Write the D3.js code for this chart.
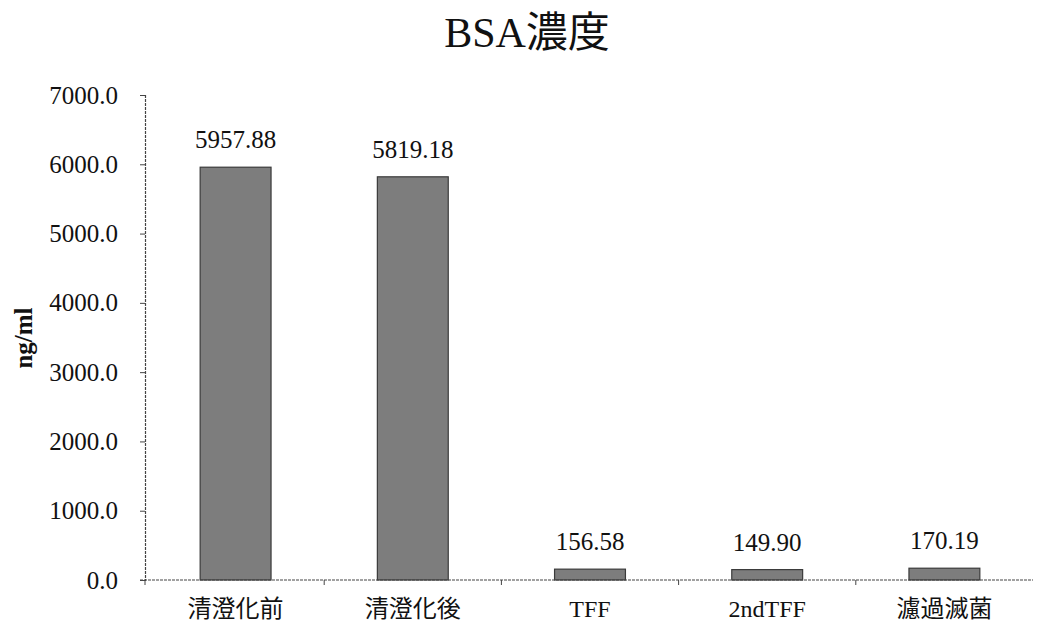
<!DOCTYPE html>
<html>
<head>
<meta charset="utf-8">
<script src="https://cdn.jsdelivr.net/npm/d3@7"></script>
<style>
  html, body { margin: 0; padding: 0; background: #fff; }
  svg { display: block; }
  text { font-family: "Liberation Serif", "Noto Sans CJK JP", serif; fill: #111; }
</style>
</head>
<body>
<svg id="chart" width="1042" height="625"></svg>
<script>
// BSA concentration at each purification step
const categories = ["清澄化前", "清澄化後", "TFF", "2ndTFF", "濾過滅菌"];
const values = [5957.88, 5819.18, 156.58, 149.90, 170.19];
const yTicks = [0, 1000, 2000, 3000, 4000, 5000, 6000, 7000];
const titleText = "BSA濃度";
const yLabel = "ng/ml";

const svg = d3.select("#chart");
const axisX = 145;
const plot = { left: 147, right: 1033, top: 95, bottom: 580 };

const x = d3.scaleBand()
  .domain(categories)
  .range([plot.left, plot.right])
  .paddingInner(0)
  .paddingOuter(0);

const y = d3.scaleLinear()
  .domain([0, 7000])
  .range([plot.bottom, plot.top]);

const barWidth = x.bandwidth() * 0.4;
const cjk = "'Noto Sans CJK JP', 'Liberation Serif', serif";
const serif = "'Liberation Serif', serif";

// Title
svg.append("text")
  .attr("x", 527)
  .attr("y", 47)
  .attr("text-anchor", "middle")
  .style("font-size", "42px")
  .text(titleText);

// Y axis
const yAxis = svg.append("g")
  .attr("transform", `translate(${axisX},0)`)
  .call(d3.axisLeft(y).tickValues(yTicks).tickFormat(d3.format(".1f")).tickSize(5).tickPadding(22));
yAxis.select(".domain").attr("stroke", "#444").attr("stroke-width", 1.2).attr("stroke-dasharray", "3,1");
yAxis.selectAll(".tick line").attr("stroke", "#444");
yAxis.selectAll(".tick text")
  .style("font-size", "25px")
  .style("font-family", serif)
  .attr("fill", "#111");

// Y axis title
svg.append("text")
  .attr("transform", `translate(32,338) rotate(-90)`)
  .attr("text-anchor", "middle")
  .style("font-size", "25px")
  .style("font-weight", "bold")
  .text(yLabel);

// Bars
svg.append("g").selectAll("rect")
  .data(values)
  .join("rect")
  .attr("x", (d, i) => x(categories[i]) + (x.bandwidth() - barWidth) / 2)
  .attr("y", d => y(d))
  .attr("width", barWidth)
  .attr("height", d => y(0) - y(d))
  .attr("fill", "#7d7d7d")
  .attr("stroke", "#3a3a3a")
  .attr("stroke-width", 1.2);

// Value labels
svg.append("g").selectAll("text")
  .data(values)
  .join("text")
  .attr("x", (d, i) => x(categories[i]) + x.bandwidth() / 2)
  .attr("y", d => y(d) - 19)
  .attr("text-anchor", "middle")
  .style("font-size", "25px")
  .text(d => d.toFixed(2));

// X axis
const xAxis = svg.append("g")
  .attr("transform", `translate(0,${plot.bottom})`);
xAxis.append("line")
  .attr("x1", axisX - 5)
  .attr("x2", plot.right)
  .attr("y1", 0).attr("y2", 0)
  .attr("stroke", "#444")
  .attr("stroke-width", 1.2)
  .attr("stroke-dasharray", "3,1");
xAxis.selectAll("line.tick")
  .data(categories)
  .join("line")
  .attr("class", "tick")
  .attr("x1", (d, i) => i === 0 ? axisX : x(d))
  .attr("x2", (d, i) => i === 0 ? axisX : x(d))
  .attr("y1", 0).attr("y2", 5)
  .attr("stroke", "#444");
xAxis.selectAll("text")
  .data(categories)
  .join("text")
  .attr("x", d => x(d) + x.bandwidth() / 2)
  .attr("y", 37)
  .attr("text-anchor", "middle")
  .style("font-size", "24px")
  .style("font-family", d => /[^\x00-\x7f]/.test(d) ? cjk : serif)
  .text(d => d);
</script>
</body>
</html>
